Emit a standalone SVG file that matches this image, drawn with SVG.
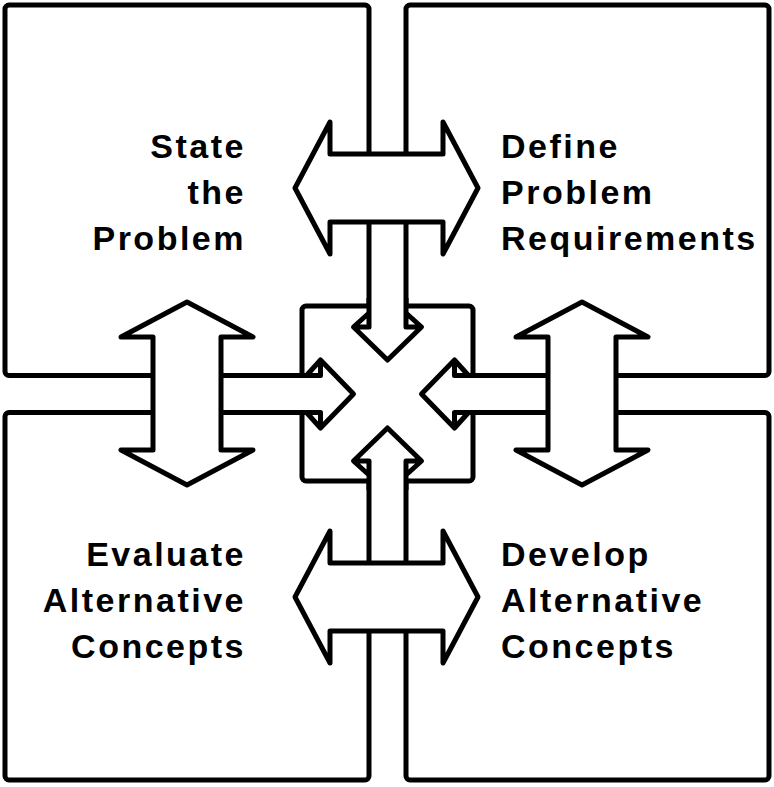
<svg xmlns="http://www.w3.org/2000/svg" width="774" height="787" viewBox="0 0 774 787">
<style>
.box{fill:#fff;stroke:#000;stroke-width:5}
.ln{fill:none;stroke:#000;stroke-width:5;stroke-linejoin:round;stroke-linecap:butt}
.wf{fill:#fff;stroke:none}
.arr{fill:#fff;stroke:#000;stroke-width:5;stroke-linejoin:round}
.t{font-family:"Liberation Sans",Arial,sans-serif;font-weight:bold;font-size:34px;letter-spacing:2.5px;fill:#000}
.l{text-anchor:end}
</style>
<rect width="774" height="787" fill="#fff"/>
<g id="box-state">
<rect class="box" x="5" y="5" width="364" height="370.5" rx="4"/>
<text class="t l"><tspan x="246" y="158">State</tspan><tspan x="246" y="204">the</tspan><tspan x="246" y="250">Problem</tspan></text>
</g>
<g id="box-define">
<rect class="box" x="406" y="5" width="363" height="370.5" rx="4"/>
<text class="t"><tspan x="501" y="158">Define</tspan><tspan x="501" y="204">Problem</tspan><tspan x="501" y="250">Requirements</tspan></text>
</g>
<g id="box-evaluate">
<rect class="box" x="5" y="412.5" width="364" height="367.5" rx="4"/>
<text class="t l"><tspan x="246" y="566">Evaluate</tspan><tspan x="246" y="612">Alternative</tspan><tspan x="246" y="658">Concepts</tspan></text>
</g>
<g id="box-develop">
<rect class="box" x="406" y="412.5" width="363" height="367.5" rx="4"/>
<text class="t"><tspan x="501" y="566">Develop</tspan><tspan x="501" y="612">Alternative</tspan><tspan x="501" y="658">Concepts</tspan></text>
</g>
<g id="hub">
<rect class="box" x="302" y="306" width="171" height="175" rx="4"/>
</g>
<g id="connectors">
<g id="in-top">
<polygon class="wf" points="369,298 369,313 353.5,327 387.5,360 421.5,327 406,313 406,298"/>
<path class="ln" d="M369,298 V313 L353.5,327 L387.5,360 L421.5,327 L406,313 V298 M353.5,327 H369 V313 M421.5,327 H406 V313"/>
</g>
<g id="in-bottom">
<polygon class="wf" points="369,490 369,475 353.5,461 387.5,428 421.5,461 406,475 406,490"/>
<path class="ln" d="M369,490 V475 L353.5,461 L387.5,428 L421.5,461 L406,475 V490 M353.5,461 H369 V475 M421.5,461 H406 V475"/>
</g>
<g id="in-left">
<polygon class="wf" points="294,375.5 306.5,375.5 320.5,360 353.5,394 320.5,428 306.5,412.5 294,412.5"/>
<path class="ln" d="M294,375.5 H306.5 L320.5,360 L353.5,394 L320.5,428 L306.5,412.5 H294 M320.5,360 V375.5 H306.5 M320.5,428 V412.5 H306.5"/>
</g>
<g id="in-right">
<polygon class="wf" points="481,375.5 468.5,375.5 454.5,360 421.5,394 454.5,428 468.5,412.5 481,412.5"/>
<path class="ln" d="M481,375.5 H468.5 L454.5,360 L421.5,394 L454.5,428 L468.5,412.5 H481 M454.5,360 V375.5 H468.5 M454.5,428 V412.5 H468.5"/>
</g>
<path id="arrow-top" class="arr" d="M295,188 L330,122 L330,154 L443,154 L443,122 L478,188 L443,254 L443,222 L330,222 L330,254 Z"/>
<path id="arrow-bottom" class="arr" d="M295,597 L330,531 L330,563 L443,563 L443,531 L478,597 L443,663 L443,631 L330,631 L330,663 Z"/>
<path id="arrow-left" class="arr" d="M187,302 L253,337 L221,337 L221,450 L253,450 L187,485 L121,450 L153,450 L153,337 L121,337 Z"/>
<path id="arrow-right" class="arr" d="M582,302 L648,337 L616,337 L616,450 L648,450 L582,485 L516,450 L548,450 L548,337 L516,337 Z"/>
</g>
</svg>
